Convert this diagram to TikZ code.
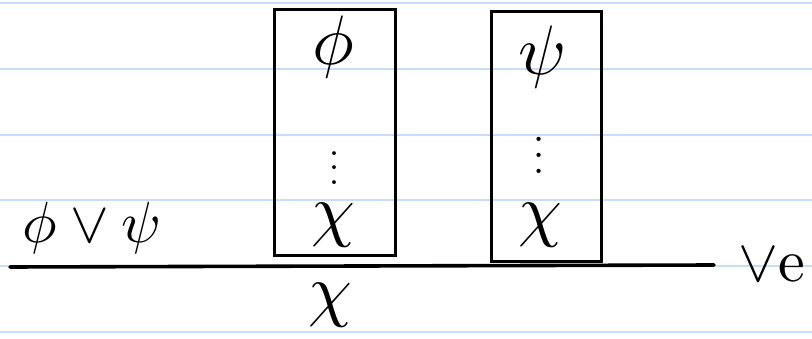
\documentclass[tikz,border=0pt]{standalone}
\usepackage{amsmath,amssymb}
\usepackage{graphicx}
\usepackage{xcolor}
\usepackage{tikz}
\usetikzlibrary{positioning, arrows.meta}

\definecolor{paperline}{RGB}{200,221,250}
\newcommand{\bigsym}[2]{\scalebox{#1}{#2}}

\begin{document}
\begin{tikzpicture}[x=1pt,y=-1pt,>=Latex,
        proofbox/.style={draw, line width=3.2pt, anchor=north west, inner sep=0pt},
        sym/.style={inner sep=0pt},
        rulebar/.style={line width=3.6pt, line cap=round}]
        \useasboundingbox (0,0) rectangle (812,339);
        % Paper lines
        \foreach \ly in {3,69,135,200,266,332}
            \draw[paperline, line width=2.2pt] (0,\ly) -- (812,\ly);

        % Boxes
        \node (box1) [proofbox, minimum width=121pt, minimum height=246pt] at (273,8) {};
        \node (box2) [proofbox, minimum width=110pt, minimum height=250pt] at (490,10) {};

        % Inside the boxes
        \node (phiA) [sym] at (333,47) {\bigsym{7}{$\phi$}};
        \node (dotsA) [sym] at (335,157) {\bigsym{3.6}{$\vdots$}};
        \node (chiA) [sym] at (333,225) {\bigsym{7}{$\chi$}};
        \node (psiB) [sym] at (543,57) {\bigsym{7}{$\psi$}};
        \node (dotsB) [sym] at (539,143) {\bigsym{4}{$\vdots$}};
        \node (chiB) [sym] at (540,225) {\bigsym{7}{$\chi$}};

        % Premise, line, conclusion
        \node (prem) [sym] at (92,228) {\bigsym{5.8}{$\phi\vee\psi$}};
        \coordinate (lineL) at (10,267);
        \coordinate (lineR) at (714,265);
        \draw[rulebar] (lineL) -- (lineR);
        \node (concl) [sym] at (330,305) {\bigsym{7}{$\chi$}};
        \node (rname) [sym, right=24pt of lineR] {\bigsym{6}{$\vee$e}};

    \end{tikzpicture}
\end{document}
